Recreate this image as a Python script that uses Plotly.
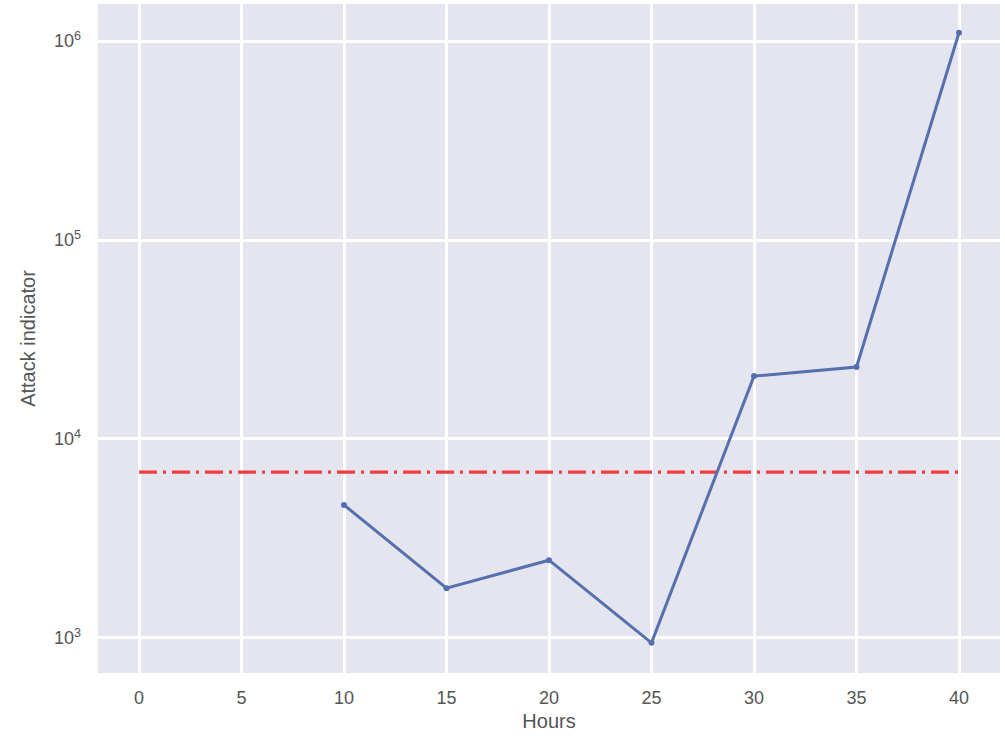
import plotly.graph_objects as go

# Attack indicator measured every five hours
hours = [10, 15, 20, 25, 30, 35, 40]
indicator = [4660, 1780, 2460, 945, 20700, 23000, 1100000]

# Alert threshold drawn across the whole time span
threshold_hours = [0, 40]
threshold_value = 6820

x_ticks = [0, 5, 10, 15, 20, 25, 30, 35, 40]
y_ticks = [1e3, 1e4, 1e5, 1e6]
y_tick_labels = ["10<sup>3</sup>", "10<sup>4</sup>", "10<sup>5</sup>", "10<sup>6</sup>"]

fig = go.Figure()

fig.add_trace(go.Scatter(
    x=threshold_hours,
    y=[threshold_value] * len(threshold_hours),
    mode="lines",
    line=dict(color="#F03C3C", width=3.2, dash="18px,6px,3px,6px"),
    hoverinfo="skip",
))

fig.add_trace(go.Scatter(
    x=hours,
    y=indicator,
    mode="lines+markers",
    line=dict(color="#5470AE", width=3),
    marker=dict(color="#5470AE", size=6),
))

text_color = "#555555"

fig.update_layout(
    width=1005,
    height=738,
    margin=dict(l=98, r=5, t=4, b=65),
    paper_bgcolor="white",
    plot_bgcolor="#E5E5EF",
    showlegend=False,
    font=dict(family="Liberation Sans, Arial, sans-serif", color=text_color, size=18),
)

fig.update_xaxes(
    range=[-2, 42],
    tickvals=x_ticks,
    ticktext=[str(v) for v in x_ticks],
    showgrid=True,
    gridcolor="white",
    gridwidth=3,
    zeroline=False,
    showline=False,
    ticks="",
    ticklabelstandoff=12,
    tickfont=dict(size=18, color=text_color),
    title=dict(text="Hours", font=dict(size=20, color=text_color), standoff=6),
)

fig.update_yaxes(
    type="log",
    range=[2.824, 6.186],
    tickvals=y_ticks,
    ticktext=y_tick_labels,
    showgrid=True,
    gridcolor="white",
    gridwidth=3,
    zeroline=False,
    showline=False,
    ticks="",
    ticklabelstandoff=16,
    tickfont=dict(size=18, color=text_color),
    title=dict(text="Attack indicator", font=dict(size=20, color=text_color), standoff=12),
)

fig.write_html("out.html")
